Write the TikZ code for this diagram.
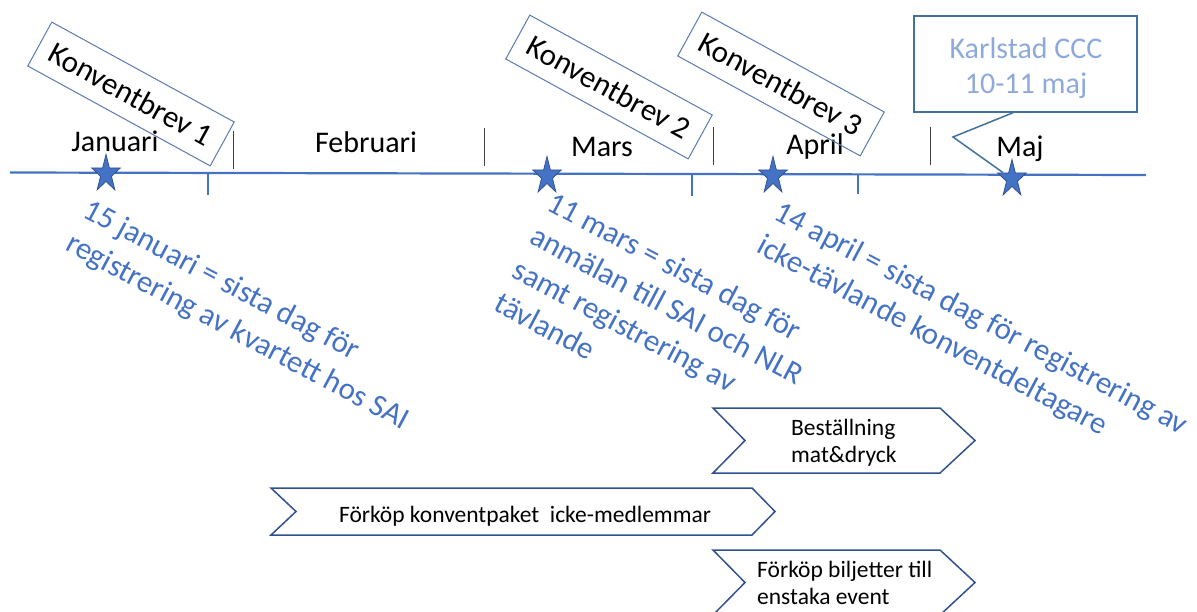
\documentclass[tikz,border=0pt]{standalone}
\usepackage{fontspec}
\setmainfont{Carlito}
\usepackage{xcolor}
\usetikzlibrary{shapes.geometric}

\definecolor{lineblue}{HTML}{4472C4}
\definecolor{darkblue}{HTML}{2F528F}
\definecolor{brevblue}{HTML}{5A7BB0}
\definecolor{calloutblue}{HTML}{41719C}
\definecolor{paleblue}{HTML}{8EAADB}
\definecolor{bordergray}{HTML}{404040}

\begin{document}
\begin{tikzpicture}[x=1pt, y=-1pt,
    timeline/.style={lineblue, line width=2.2pt},
    border/.style={bordergray, line width=0.9pt},
    month/.style={anchor=base, font=\fontsize{30}{36}\selectfont},
    brev/.style={draw=brevblue, line width=1pt, minimum width=208, minimum height=50, inner sep=0, rotate=-28.7, font=\fontsize{31}{37}\selectfont},
    deadline/.style={anchor=north west, align=left, inner sep=0, rotate=-28, text=lineblue, font=\fontsize{31}{38}\selectfont},
    datestar/.style={star, star points=5, star point ratio=2.618, minimum size=30, inner sep=0, yscale=1.3, fill=lineblue, draw=darkblue, line width=0.8pt},
    chevron/.style={draw=darkblue, line width=1.5pt, line join=miter},
    chevtext/.style={align=left, inner sep=0, font=\fontsize{23.5}{27}\selectfont}
  ]
    \useasboundingbox (0,0) rectangle (1197,612);

    % Timeline with ticks
    \draw[timeline] (10,172.5) -- (1146,175);
    \draw[timeline] (208,173) -- (208,195);
    \draw[timeline] (692,174) -- (692,196);
    \draw[timeline] (858,174) -- (858,194);
    \draw[border] (233,131) -- (233,169);
    \draw[border] (484,128) -- (484,166);
    \draw[border] (713,127) -- (713,165);
    \draw[border] (930,127) -- (930,165);

    % Months
    \node[month] (jan) at (115,152) {Januari};
    \node[month] (feb) at (366,153) {Februari};
    \node[month] (mar) at (602,157) {Mars};
    \node[month] (apr) at (815,155) {April};
    \node[month] (maj) at (1020,157) {Maj};

    % Konventbrev
    \node[brev] (brev1) at (131,94) {Konventbrev 1};
    \node[brev] (brev2) at (609,87) {Konventbrev 2};
    \node[brev] (brev3) at (781,84) {Konventbrev 3};

    % Deadlines
    \node[datestar] (s1) at (106,174) {};
    \node[datestar] (s2) at (547,176) {};
    \node[datestar] (s3) at (773,176) {};
    \node[datestar] (s4) at (1012,179) {};
    \node[deadline] (d1) at (92,197) {15 januari = sista dag för\\registrering av kvartett hos SAI};
    \node[deadline] (d2) at (556,190) {11 mars = sista dag för\\anmälan till SAI och NLR\\samt registrering av\\tävlande};
    \node[deadline] (d3) at (783,199) {14 april = sista dag för registrering av\\icke-tävlande konventdeltagare};

    % Convention
    \node[draw=calloutblue, line width=1.5pt, minimum width=223, minimum height=96, inner sep=0] (karlstad) at (1025.5,64) {};
    \node[align=center, text=paleblue, font=\fontsize{30}{35}\selectfont] (karlstadtxt) at (1026,68) {Karlstad CCC\\10-11 maj};
    \draw[calloutblue, line width=1.5pt, line join=miter] (karlstad.south) ++(-12.5,0) -- (953,137) -- (s4);

    % Pre-sales and orders
    \draw[chevron] (713,408) -- (940,408) -- (975,440.5) -- (940,473) -- (713,473) -- (745,440.5) -- cycle;
    \node[chevtext, anchor=north west] (order) at (791,419) {Beställning\\mat\&dryck};
    \draw[chevron] (271,488) -- (752,488) -- (775,511.5) -- (752,535) -- (271,535) -- (296,511.5) -- cycle;
    \node[chevtext, anchor=base] (package) at (525,522) {Förköp konventpaket\ \ icke-medlemmar};
    \draw[chevron] (713,550) -- (940,550) -- (975,582.5) -- (940,615) -- (713,615) -- (745,582.5) -- cycle;
    \node[chevtext, anchor=north west] (tickets) at (757,561) {Förköp biljetter till\\enstaka event};
\end{tikzpicture}
\end{document}
